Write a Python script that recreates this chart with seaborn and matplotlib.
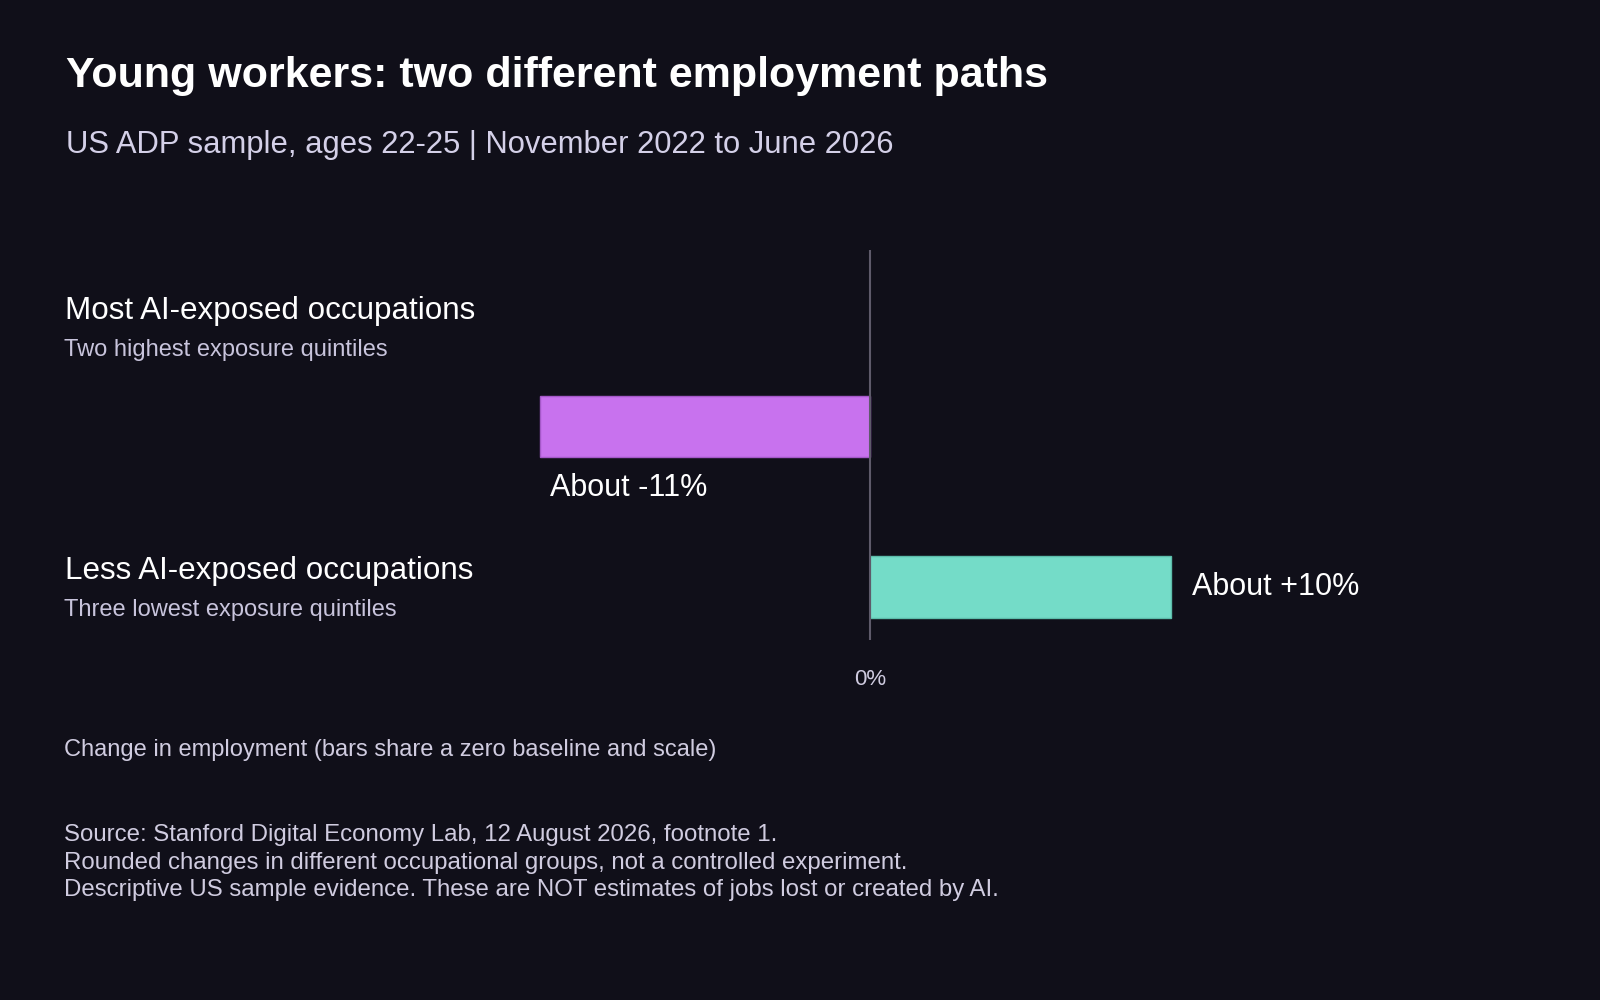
import pandas as pd
import matplotlib
matplotlib.use("Agg")
import matplotlib.pyplot as plt
import seaborn as sns

# Data
groups = ["Most AI-exposed occupations", "Less AI-exposed occupations"]
group_notes = ["Two highest exposure quintiles", "Three lowest exposure quintiles"]
changes = [-11, 10]
bar_labels = ["About -11%", "About +10%"]

title = "Young workers: two different employment paths"
subtitle = "US ADP sample, ages 22-25 | November 2022 to June 2026"
axis_note = "Change in employment (bars share a zero baseline and scale)"
source_lines = [
    "Source: Stanford Digital Economy Lab, 12 August 2026, footnote 1.",
    "Rounded changes in different occupational groups, not a controlled experiment.",
    "Descriptive US sample evidence. These are NOT estimates of jobs lost or created by AI.",
]

bg = "#100f19"
bar_colors = ["#c872ee", "#74dcc8"]
edge_colors = ["#a458c8", "#5cbcaa"]

sns.set_theme(style="white")
plt.rcParams['font.family'] = ['Liberation Sans', 'DejaVu Sans']

df = pd.DataFrame({"group": groups, "change": changes})

fig = plt.figure(figsize=(16, 10), dpi=100, facecolor=bg)
ax = fig.add_axes([0.04, 0.3602, 0.92, 0.3898])
ax.set_facecolor(bg)

sns.barplot(data=df, x="change", y="group", hue="group", palette=bar_colors,
            orient="h", width=0.382, saturation=1, legend=False, ax=ax)
for patch, ec in zip(ax.patches, edge_colors):
    patch.set_edgecolor(ec)
    patch.set_linewidth(1)

# zero baseline
ax.axvline(0, color="#5e5a6a", linewidth=1.5, zorder=3)
ax.set_xlim(-26.84, 22.15)
ax.set_ylim(1.33, -1.10)

for s in ax.spines.values():
    s.set_visible(False)
ax.set_yticks([])
ax.set_xticks([0])
ax.set_xticklabels(["0%"])
ax.tick_params(axis="x", length=0, pad=21, labelsize=16, labelcolor="#cfcbe0")
ax.set_xlabel("")
ax.set_ylabel("")

# value labels
ax.text(changes[0] + 0.35, 0.382, bar_labels[0], color="white", fontsize=22,
        va="center", ha="left")
ax.text(changes[1] + 0.7, 1, bar_labels[1], color="white", fontsize=22,
        va="center", ha="left")

# left-hand group labels
fig.text(0.0408, 0.681, groups[0], color="white", fontsize=22.6, va="baseline")
fig.text(0.0402, 0.644, group_notes[0], color="#c8c4dc", fontsize=17, va="baseline")
fig.text(0.0408, 0.4214, groups[1], color="white", fontsize=22.6, va="baseline")
fig.text(0.0402, 0.3837, group_notes[1], color="#c8c4dc", fontsize=17, va="baseline")

# titles
fig.text(0.0415, 0.913, title, color="white", fontsize=31, fontweight="bold", va="baseline")
fig.text(0.0410, 0.847, subtitle, color="#d4d0e8", fontsize=22.3, va="baseline")

# notes
fig.text(0.0402, 0.2439, axis_note, color="#d0cce0", fontsize=17, va="baseline")
for i, line in enumerate(source_lines):
    fig.text(0.0402, 0.159 - i * 0.0276, line, color="#d0cce0", fontsize=17.3, va="baseline")

fig.savefig("out.png", dpi=100, facecolor=bg)
